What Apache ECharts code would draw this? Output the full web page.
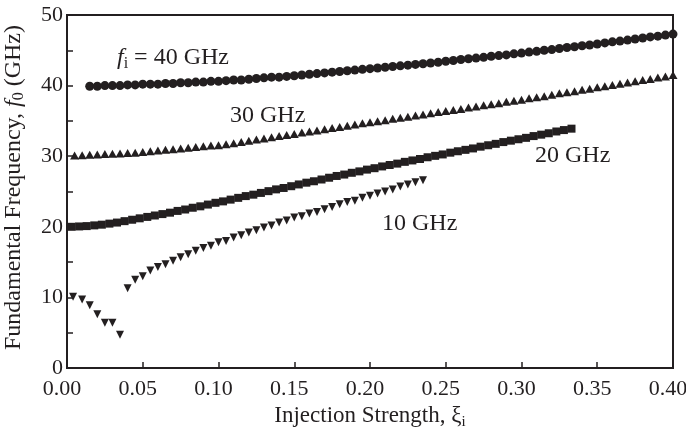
<!DOCTYPE html>
<html><head><meta charset="utf-8">
<script src="https://cdn.jsdelivr.net/npm/echarts@6/dist/echarts.min.js"></script>
<style>html,body{margin:0;padding:0;background:#fff}#c{width:686px;height:443px}</style>
</head><body><div id="c"></div>
<script>
// ---- data ----
const xTicks = ['0.00','0.05','0.10','0.15','0.20','0.25','0.30','0.35','0.40'];
const yTicks = ['0','10','20','30','40','50'];

const x40 = [0.015,0.02,0.025,0.03,0.035,0.04,0.045,0.05,0.055,0.06,0.065,0.07,0.075,0.08,0.085,0.09,0.095,0.1,0.105,0.11,0.115,0.12,0.125,0.13,0.135,0.14,0.145,0.15,0.155,0.16,0.165,0.17,0.175,0.18,0.185,0.19,0.195,0.2,0.205,0.21,0.215,0.22,0.225,0.23,0.235,0.24,0.245,0.25,0.255,0.26,0.265,0.27,0.275,0.28,0.285,0.29,0.295,0.3,0.305,0.31,0.315,0.32,0.325,0.33,0.335,0.34,0.345,0.35,0.355,0.36,0.365,0.37,0.375,0.38,0.385,0.39,0.395,0.4];
const y40 = [39.9,39.9,40.0,40.0,40.0,40.1,40.1,40.2,40.2,40.2,40.3,40.3,40.4,40.4,40.5,40.5,40.6,40.6,40.7,40.8,40.8,40.9,41.0,41.1,41.2,41.2,41.3,41.4,41.5,41.6,41.7,41.8,41.9,42.0,42.1,42.2,42.3,42.4,42.5,42.6,42.7,42.8,42.9,43.0,43.1,43.2,43.3,43.45,43.55,43.7,43.8,43.9,44.0,44.15,44.25,44.35,44.5,44.6,44.75,44.85,45.0,45.1,45.25,45.4,45.5,45.65,45.75,45.9,46.05,46.2,46.3,46.45,46.6,46.75,46.9,47.0,47.15,47.3];

const x30 = [0.005,0.01,0.015,0.02,0.025,0.03,0.035,0.04,0.045,0.05,0.055,0.06,0.065,0.07,0.075,0.08,0.085,0.09,0.095,0.1,0.105,0.11,0.115,0.12,0.125,0.13,0.135,0.14,0.145,0.15,0.155,0.16,0.165,0.17,0.175,0.18,0.185,0.19,0.195,0.2,0.205,0.21,0.215,0.22,0.225,0.23,0.235,0.24,0.245,0.25,0.255,0.26,0.265,0.27,0.275,0.28,0.285,0.29,0.295,0.3,0.305,0.31,0.315,0.32,0.325,0.33,0.335,0.34,0.345,0.35,0.355,0.36,0.365,0.37,0.375,0.38,0.385,0.39,0.395,0.4];
const y30 = [30.1,30.15,30.2,30.25,30.3,30.35,30.4,30.45,30.5,30.6,30.7,30.8,30.9,31.0,31.1,31.2,31.3,31.4,31.5,31.55,31.7,31.85,32.0,32.2,32.35,32.5,32.7,32.85,33.0,33.15,33.35,33.5,33.65,33.8,34.0,34.15,34.3,34.5,34.65,34.8,34.95,35.1,35.3,35.45,35.6,35.75,35.9,36.1,36.25,36.4,36.55,36.7,36.9,37.05,37.2,37.35,37.5,37.7,37.85,38.0,38.2,38.35,38.5,38.7,38.9,39.05,39.2,39.4,39.55,39.75,39.9,40.1,40.25,40.45,40.6,40.8,40.95,41.15,41.3,41.5];

const x20 = [0.003,0.008,0.013,0.018,0.023,0.028,0.033,0.038,0.043,0.048,0.053,0.058,0.063,0.068,0.073,0.078,0.083,0.088,0.093,0.098,0.103,0.108,0.113,0.118,0.123,0.128,0.133,0.138,0.143,0.148,0.153,0.158,0.163,0.168,0.173,0.178,0.183,0.188,0.193,0.198,0.203,0.208,0.213,0.218,0.223,0.228,0.233,0.238,0.243,0.248,0.253,0.258,0.263,0.268,0.273,0.278,0.283,0.288,0.293,0.298,0.303,0.308,0.313,0.318,0.323,0.328,0.333];
const y20 = [20.0,20.05,20.1,20.2,20.3,20.45,20.6,20.8,21.0,21.2,21.4,21.6,21.8,22.0,22.25,22.45,22.7,22.9,23.15,23.4,23.6,23.85,24.1,24.35,24.55,24.8,25.05,25.3,25.5,25.75,26.0,26.25,26.45,26.7,26.95,27.2,27.4,27.65,27.85,28.1,28.3,28.55,28.75,28.95,29.2,29.4,29.6,29.85,30.05,30.25,30.5,30.7,30.9,31.1,31.35,31.55,31.75,32.0,32.2,32.4,32.6,32.85,33.05,33.25,33.5,33.7,33.9];

const x10 = [0.004,0.01,0.015,0.02,0.025,0.03,0.035,0.04,0.045,0.05,0.055,0.06,0.065,0.07,0.075,0.08,0.085,0.09,0.095,0.1,0.105,0.11,0.115,0.12,0.125,0.13,0.135,0.14,0.145,0.15,0.155,0.16,0.165,0.17,0.175,0.18,0.185,0.19,0.195,0.2,0.205,0.21,0.215,0.22,0.225,0.23,0.235];
const y10 = [10.1,9.7,8.9,7.6,6.4,6.4,4.7,11.3,12.5,13.0,13.8,14.3,14.7,15.2,15.7,16.1,16.6,17.0,17.3,17.8,18.0,18.5,18.8,19.2,19.5,19.9,20.2,20.6,20.9,21.3,21.5,21.9,22.1,22.5,22.8,23.2,23.5,23.7,24.1,24.4,24.7,25.0,25.3,25.7,26.0,26.3,26.6];

const curveLabels = ['40 GHz','30 GHz','20 GHz','10 GHz'];

// ---- chart ----
const ink = '#231f20';
const font = 'Liberation Serif';
const pair = (xs, ys) => xs.map((x, i) => [x, ys[i]]);
const chart = echarts.init(document.getElementById('c'), null, {renderer: 'canvas'});
const X0 = 67, X1 = 673, Y0 = 368, Y1 = 15;
const mk = {color: ink, opacity: 1};

chart.setOption({
  animation: false,
  backgroundColor: '#fff',
  grid: {left: X0, right: 686 - X1, top: Y1, bottom: 443 - Y0, containLabel: false, outerBoundsMode: 'none',
    show: true, borderColor: ink, borderWidth: 2},
  xAxis: {
    type: 'value', min: 0, max: 0.4, interval: 0.05,
    axisLine: {lineStyle: {color: ink, width: 2}},
    axisTick: {inside: true, length: 6, lineStyle: {color: ink, width: 1.5}},
    splitLine: {show: false},
    axisLabel: {color: ink, fontFamily: font, fontSize: 22, margin: 10, padding: [0, 10, 0, 0],
      formatter: v => xTicks[Math.round(v / 0.05)]},
    name: '{t|Injection Strength, ξ}{s|i}', nameLocation: 'middle', nameGap: 31,
    nameTextStyle: {rich: {
      t: {fontFamily: font, fontSize: 23, color: ink},
      s: {fontFamily: font, fontSize: 15, color: ink, padding: [11, 0, 0, 0]}
    }}
  },
  yAxis: {
    type: 'value', min: 0, max: 50, interval: 10,
    axisLine: {lineStyle: {color: ink, width: 2}},
    axisTick: {inside: true, length: 6, lineStyle: {color: ink, width: 1.5}},
    minorTick: {show: true, splitNumber: 2, length: 6, lineStyle: {color: ink, width: 1.5}},
    splitLine: {show: false},
    axisLabel: {color: ink, fontFamily: font, fontSize: 22, margin: 4,
      formatter: v => yTicks[Math.round(v / 10)]},
    name: '{t|Fundamental Frequency, }{i|f}{s|0}{t| (GHz)}', nameLocation: 'middle', nameGap: 40,
    nameTextStyle: {padding: [0, 0, 0, 8], rich: {
      t: {fontFamily: font, fontSize: 24, color: ink},
      i: {fontFamily: font, fontSize: 24, fontStyle: 'italic', color: ink},
      s: {fontFamily: font, fontSize: 16, color: ink, padding: [11, 0, 0, 0]}
    }}
  },
  series: [
    {type: 'scatter', data: pair(x40, y40), symbol: 'circle', symbolSize: 9, itemStyle: mk},
    {type: 'scatter', data: pair(x30, y30), symbol: 'triangle', symbolSize: [9, 8], itemStyle: mk},
    {type: 'scatter', data: pair(x20, y20), symbol: 'rect', symbolSize: 8, itemStyle: mk},
    {type: 'scatter', data: pair(x10, y10), symbol: 'triangle', symbolRotate: 180, symbolSize: [8, 8], itemStyle: mk}
  ],
  graphic: [
    {type: 'text', x: 117, y: 58, style: {
      text: '{i|f}{s|i}{t| = ' + curveLabels[0] + '}', verticalAlign: 'middle',
      rich: {
        t: {fontFamily: font, fontSize: 24, fill: ink},
        i: {fontFamily: font, fontSize: 24, fontStyle: 'italic', fill: ink},
        s: {fontFamily: font, fontSize: 16, fill: ink, padding: [12, 0, 0, 0]}
      }}},
    {type: 'text', x: 230, y: 116, style: {text: curveLabels[1], verticalAlign: 'middle', fontFamily: font, fontSize: 24, fill: ink}},
    {type: 'text', x: 535, y: 156, style: {text: curveLabels[2], verticalAlign: 'middle', fontFamily: font, fontSize: 24, fill: ink}},
    {type: 'text', x: 382, y: 224, style: {text: curveLabels[3], verticalAlign: 'middle', fontFamily: font, fontSize: 24, fill: ink}}
  ]
});
</script></body></html>
